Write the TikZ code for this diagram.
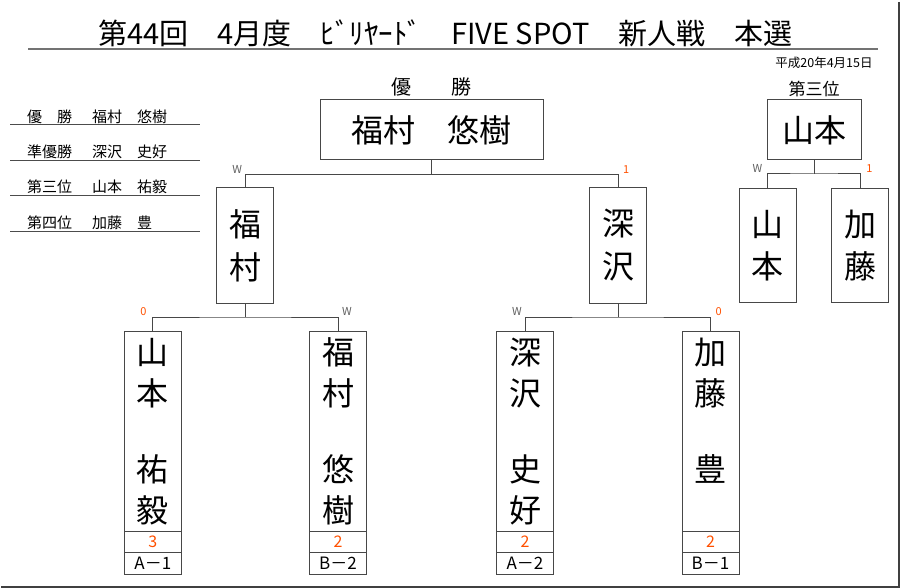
\documentclass[tikz,border=0pt]{standalone}
\usepackage{fontspec}
\setmainfont{Noto Sans CJK JP}
\usetikzlibrary{positioning, calc}
\colorlet{line_gray}{black!72}
\colorlet{mark_gray}{black!62}
\definecolor{score_orange}{RGB}{255,80,0}
\newcommand{\fsz}[2]{\fontsize{#1}{#2}\selectfont}
\newcommand{\vname}[4]{#1\\#2\\[35pt]#3\\#4}
\tikzset{
  name box/.style={draw=line_gray, line width=1pt, inner sep=0pt, outer sep=0pt,
    align=center, font=\fsz{32}{41}},
  score box/.style={draw=line_gray, line width=1pt, inner sep=0pt, outer sep=0pt,
    minimum width=57pt, minimum height=21.3pt, font=\fsz{16}{18}, text=score_orange},
  block box/.style={draw=line_gray, line width=1pt, inner sep=0pt, outer sep=0pt,
    minimum width=57pt, minimum height=21.7pt, font=\fsz{17}{19}},
  bracket/.style={line_gray, line width=1pt},
  win mark/.style={inner sep=1pt, font=\fsz{11}{12}, text=mark_gray},
  lose mark/.style={inner sep=1pt, font=\fsz{11}{12}, text=score_orange}
}

\begin{document}
\begin{tikzpicture}[x=1pt, y=-1pt]
\useasboundingbox (0,0) rectangle (900,588);

% Draw the frame and the title
\draw[line width=2pt, black!75] (898.5,2) -- (898.5,586.5) -- (1,586.5);
\node[font=\fsz{29}{32}] (title) at (445.5,33) {第44回　4月度　ﾋﾞﾘﾔｰﾄﾞ　FIVE SPOT　新人戦　本選};
\draw[line width=2.2pt, black!55] (28,49.3) -- (878,49.3);
\node[font=\fsz{12.5}{14}] (date) at (824,63) {平成20年4月15日};

% Draw the list of results
\foreach \i/\rank/\who in {0/優　勝/福村　悠樹, 1/準優勝/深沢　史好, 2/第三位/山本　祐毅, 3/第四位/加藤　豊}{
  \node[anchor=base west, inner sep=0pt, font=\fsz{15}{16}] (rank\i) at (27,122.4+35.3*\i) {\rank};
  \node[anchor=base west, inner sep=0pt, font=\fsz{15}{16}] (who\i) at (92,122.4+35.3*\i) {\who};
  \draw[black!70, line width=0.8pt] (10,124.3+35.8*\i) -- (200,124.3+35.8*\i);
}

% Draw the final
\node[name box, minimum width=223pt, minimum height=60pt] (fin) at (431.5,130) {福村　悠樹};
\node[font=\fsz{20}{22}, above=0pt of fin] (finlbl) {優　　勝};
\node[name box, minimum width=57pt, minimum height=115pt, font=\fsz{32}{43}] (semiL) at (245.3,245.5) {福\\村};
\node[name box, minimum width=57pt, minimum height=115pt, font=\fsz{32}{43}] (semiR) at (618,245.5) {深\\沢};

% Draw the first round boxes
\foreach \n/\x/\a/\b/\c/\d/\sc/\blk in {q1/152.8/山/本/祐/毅/3/A－1, q2/338/福/村/悠/樹/2/B－2,
    q3/525/深/沢/史/好/2/A－2, q4/710.5/加/藤/豊/\phantom{豊}/2/B－1}{
  \node[name box, minimum width=57pt, minimum height=200pt] (\n) at (\x,431.2) {\vname{\a}{\b}{\c}{\d}};
  \node[score box, below=0pt of \n] (\n s) {\sc};
  \node[block box, below=0pt of \n s] (\n b) {\blk};
}

% Draw the third place match
\node[name box, minimum width=93.7pt, minimum height=60pt] (third) at (814.2,130) {山本};
\node[font=\fsz{17}{19}, above=0pt of third] (thirdlbl) {第三位};
\node[name box, minimum width=57pt, minimum height=114pt, font=\fsz{32}{42}] (thL) at (767.5,245.2) {山\\本};
\node[name box, minimum width=57pt, minimum height=114pt, font=\fsz{32}{42}] (thR) at (860.2,245.2) {加\\藤};

% Draw the brackets
\draw[bracket] (fin.south) -- ++(0,14.3) coordinate (fin_j);
\draw[bracket] (semiL.north) |- (fin_j) -| (semiR.north);
\draw[bracket] (semiL.south) -- ++(0,14) coordinate (semiL_j);
\draw[bracket] (q1.north) |- (semiL_j) -| (q2.north);
\draw[bracket] (semiR.south) -- ++(0,14) coordinate (semiR_j);
\draw[bracket] (q3.north) |- (semiR_j) -| (q4.north);
\draw[bracket] (third.south) -- ++(0,14) coordinate (third_j);
\draw[bracket] (thL.north) |- (third_j) -| (thR.north);

% Mark the results of each match
\coordinate (c1) at (semiL.north |- fin_j);
\coordinate (c2) at (semiR.north |- fin_j);
\coordinate (c3) at (q1.north |- semiL_j);
\coordinate (c4) at (q2.north |- semiL_j);
\coordinate (c5) at (q3.north |- semiR_j);
\coordinate (c6) at (q4.north |- semiR_j);
\coordinate (c7) at (thL.north |- third_j);
\coordinate (c8) at (thR.north |- third_j);
\node[win mark, above left=0pt and 2pt of c1] (m1) {W};
\node[lose mark, above right=0pt and 4pt of c2] (m2) {1};
\node[lose mark, above left=0pt and 5pt of c3] (m3) {0};
\node[win mark, above right=0pt and 3pt of c4] (m4) {W};
\node[win mark, above left=0pt and 2pt of c5] (m5) {W};
\node[lose mark, above right=0pt and 4pt of c6] (m6) {0};
\node[win mark, above left=0pt and 4pt of c7] (m7) {W};
\node[lose mark, above right=0pt and 5pt of c8] (m8) {1};

\end{tikzpicture}
\end{document}
